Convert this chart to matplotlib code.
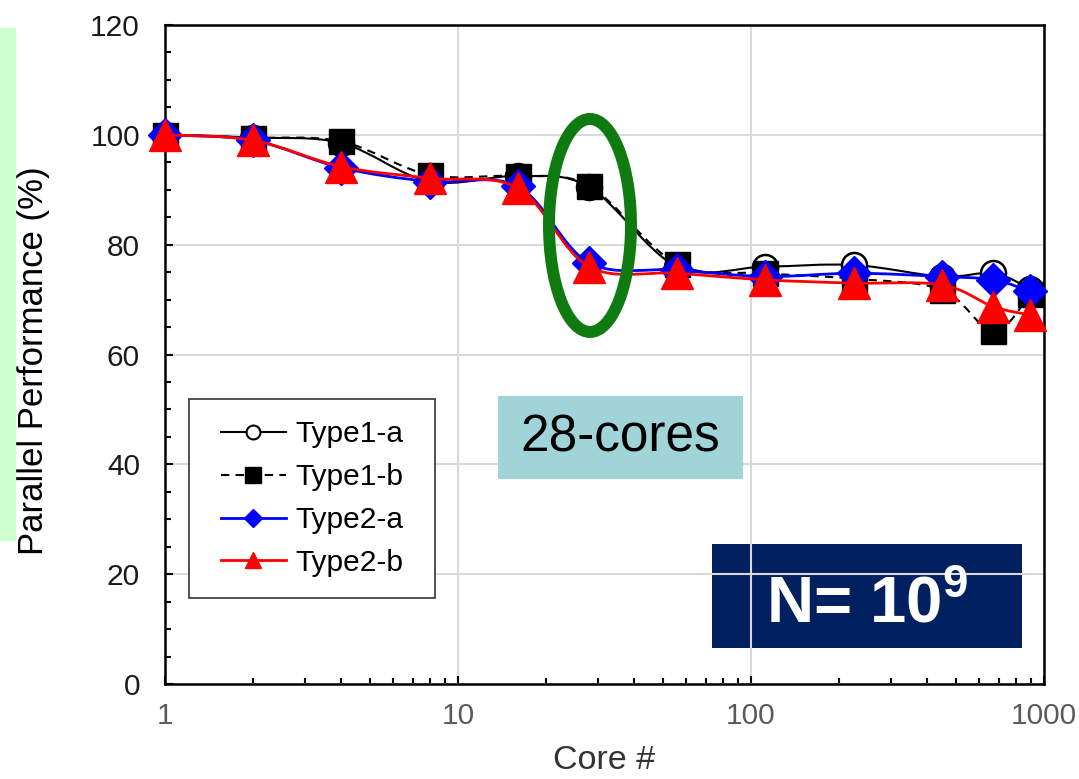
import numpy as np
import matplotlib
matplotlib.use("Agg")
import matplotlib.pyplot as plt
from matplotlib.path import Path
from matplotlib.patches import PathPatch, Rectangle, Ellipse
from matplotlib.lines import Line2D
from matplotlib.ticker import LogLocator, NullFormatter, MultipleLocator

plt.rcParams['font.family'] = ['Liberation Sans', 'DejaVu Sans']
plt.rcParams['mathtext.fontset'] = 'custom'
plt.rcParams['mathtext.rm'] = 'Liberation Sans'
plt.rcParams['mathtext.bf'] = 'Liberation Sans:bold'

# data
cores = [1, 2, 4, 8, 16, 28, 56, 112, 224, 448, 672, 896]
type1_a = [100, 99.5, 98.5, 91.5, 92.5, 90.5, 76.0, 76.0, 76.3, 74.2, 74.8, 72.0]
type1_b = [100, 99.5, 98.8, 92.7, 92.5, 90.7, 76.5, 74.8, 73.8, 71.8, 64.2, 71.0]
type2_a = [100, 99.0, 94.0, 91.5, 90.6, 76.7, 75.4, 74.2, 74.8, 74.2, 73.6, 71.5]
type2_b = [100, 99.0, 94.2, 92.1, 90.3, 76.0, 74.8, 73.6, 73.0, 72.7, 68.7, 67.2]
labels = ['Type1-a', 'Type1-b', 'Type2-a', 'Type2-b']
xticks = [1, 10, 100, 1000]


def smooth_path(xs, ys):
    # excel-like smoothed line: bezier segments through the points (log x)
    pts = np.column_stack([np.log10(xs), ys])
    n = len(pts)
    verts = [pts[0]]
    codes = [Path.MOVETO]
    for i in range(n - 1):
        p0 = pts[max(i - 1, 0)]
        p1 = pts[i]
        p2 = pts[i + 1]
        p3 = pts[min(i + 2, n - 1)]
        verts += [p1 + (p2 - p0) / 6, p2 - (p3 - p1) / 6, p2]
        codes += [Path.CURVE4] * 3
    verts = np.array(verts)
    verts[:, 0] = 10 ** verts[:, 0]
    return Path(verts, codes)


fig = plt.figure(figsize=(10.79, 7.79), dpi=100)
ax = fig.add_axes([165 / 1079, 95 / 779, 879 / 1079, 659 / 779])

# light green strip at the left edge
fig.patches.append(Rectangle((0, 239 / 779), 15 / 1079, 512 / 779,
                             transform=fig.transFigure, color='#CCFFCC', zorder=0))

series = [
    (type1_a, 'black', 1.5, '-', dict(marker='o', ms=18, mfc='white', mec='black', mew=1.8)),
    (type1_b, 'black', 1.5, (0, (4, 3)), dict(marker='s', ms=18, mfc='black', mec='black')),
    (type2_a, '#0000FF', 2.0, '-', dict(marker='D', ms=17, mfc='#0000FF', mec='#0000FF')),
    (type2_b, '#FF0000', 2.0, '-', dict(marker='^', ms=23, mfc='#FF0000', mec='#FF0000')),
]
for i, (vals, col, lw, ls, mk) in enumerate(series):
    ax.add_patch(PathPatch(smooth_path(cores, vals), fill=False, edgecolor=col,
                           lw=lw, linestyle=ls, zorder=3 + i))
    ax.plot(cores, vals, linestyle='none', zorder=3.5 + i, clip_on=False, **mk)

ax.set_xscale('log')
ax.set_xlim(1, 1000)
ax.set_ylim(0, 120)
ax.set_xticks(xticks, labels=[str(t) for t in xticks])
ax.xaxis.set_minor_locator(LogLocator(base=10, subs=np.arange(2, 10)))
ax.xaxis.set_minor_formatter(NullFormatter())
ax.yaxis.set_major_locator(MultipleLocator(20))
ax.yaxis.set_minor_locator(MultipleLocator(5))

ax.grid(True, which='major', color='#D9D9D9', lw=1.5)
for s in ax.spines.values():
    s.set_linewidth(1.8)
    s.set_color('black')
ax.tick_params(which='both', direction='in', width=1.5, top=False, right=False)
ax.tick_params(which='major', length=6)
ax.tick_params(which='minor', length=4)
ax.tick_params(axis='x', which='major', labelsize=21.5, labelcolor='#595959', pad=13)
ax.tick_params(axis='y', which='major', labelsize=21.5, labelcolor='#1A1A1A', pad=18)

ax.set_xlabel('Core #', fontsize=24.5, color='#333333')
ax.set_ylabel('Parallel Performance (%)', fontsize=25, color='black')
ax.xaxis.set_label_coords(0.5, -0.093)
ax.yaxis.set_label_coords(-0.131, 0.49)

# legend with its own frame
ax.add_patch(Rectangle((0.0273, 0.1305), 0.2799, 0.302, transform=ax.transAxes,
                       facecolor='white', edgecolor='#333333', lw=1.2, zorder=8))
handles = [
    Line2D([], [], color='black', lw=1.5, marker='o', ms=10, mfc='white', mec='black', mew=1.5),
    Line2D([], [], color='black', lw=1.5, ls=(0, (4, 3)), marker='s', ms=12, mfc='black', mec='black'),
    Line2D([], [], color='#0000FF', lw=2, marker='D', ms=9, mfc='#0000FF', mec='#0000FF'),
    Line2D([], [], color='#FF0000', lw=2, marker='^', ms=12, mfc='#FF0000', mec='#FF0000'),
]
leg = ax.legend(handles, labels, loc='center', bbox_to_anchor=(0.1672, 0.2815),
                fontsize=21.5, frameon=False, handlelength=2.2, handletextpad=0.3,
                labelspacing=0.5, borderpad=0.2)
leg.set_zorder(9)

# 28-cores note and circle
ax.add_patch(Rectangle((0.3788, 0.311), 0.2787, 0.126, transform=ax.transAxes,
                       facecolor='#A0D4D8', edgecolor='none', zorder=6))
ax.text(0.518, 0.374, '28-cores', transform=ax.transAxes, fontsize=37,
        ha='center', va='center', color='black', zorder=7)
ax.add_patch(Ellipse((0.4835, 0.6958), 0.0933, 0.3232, transform=ax.transAxes,
                     fill=False, edgecolor='#0F7A0F', lw=8.6, zorder=10, clip_on=False))

# N = 10^9 box (under the grid)
ax.add_patch(Rectangle((0.6223, 0.0546), 0.3527, 0.1578, transform=ax.transAxes,
                       facecolor='#002060', edgecolor='none', zorder=1))
ax.text(0.7986, 0.094, r'N= 10$^{\mathbf{9}}$', transform=ax.transAxes, fontsize=47,
        fontweight='bold', color='white', ha='center', va='baseline', zorder=7)

fig.savefig('out.png', dpi=100)
